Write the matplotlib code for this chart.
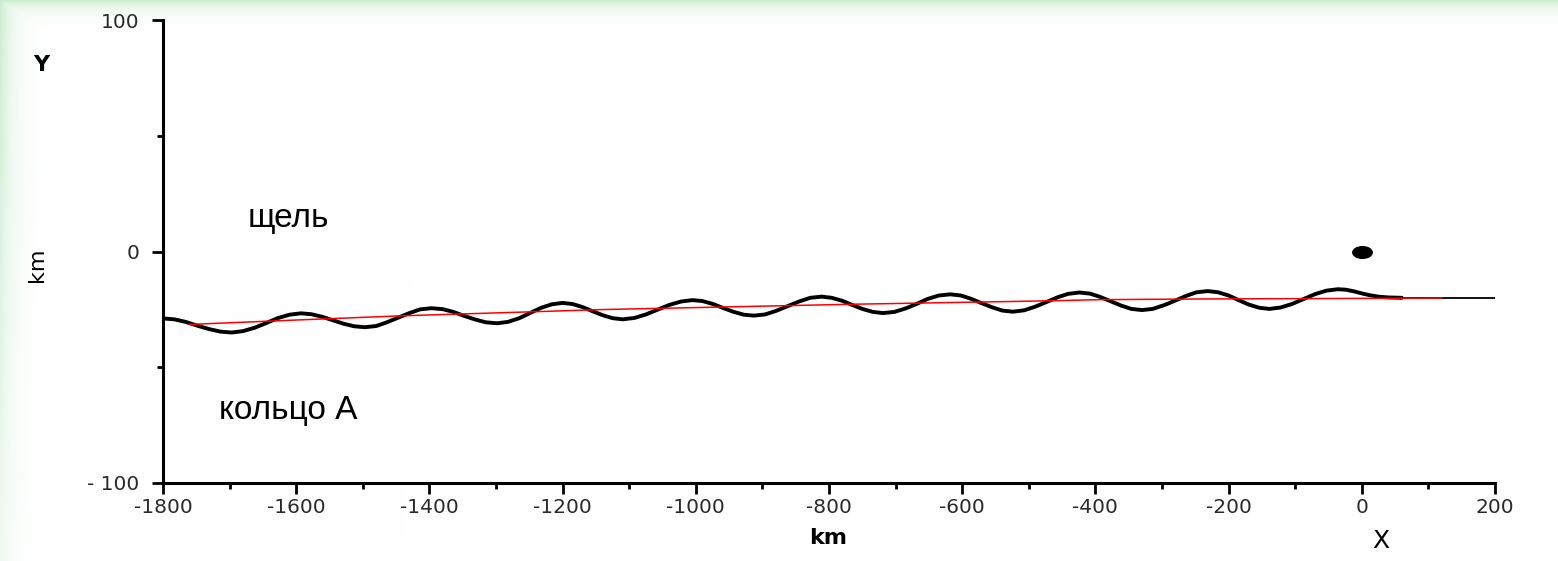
import numpy as np
import matplotlib
matplotlib.use('Agg')
import matplotlib.pyplot as plt
from matplotlib.path import Path
from matplotlib.ticker import MultipleLocator

# ---- data (km) ----
wave_x = [-1800, -1783, -1766, -1749, -1731, -1714,
          -1697, -1680, -1662, -1645, -1628, -1610,
          -1593, -1577, -1561, -1545, -1529, -1513,
          -1497, -1480, -1464, -1447, -1430, -1414,
          -1397, -1380, -1364, -1348, -1331, -1315,
          -1298, -1282, -1265, -1249, -1233, -1216,
          -1200, -1185, -1170, -1155, -1140, -1125,
          -1110, -1092, -1075, -1058, -1040, -1022,
          -1005, -990, -974, -959, -944, -928,
          -913, -896, -879, -862, -845, -828,
          -811, -796, -780, -765, -750, -734,
          -719, -702, -685, -668, -652, -635,
          -618, -602, -587, -571, -555, -540,
          -524, -507, -491, -474, -457, -441,
          -424, -408, -393, -377, -361, -346,
          -330, -314, -297, -280, -264, -248,
          -231, -216, -200, -185, -170, -154,
          -139, -122, -105, -88, -70, -53,
          -36, -24, -12, 0, 12, 25, 40, 60, 200]
wave_y = [-28.9, -29.3, -30.4, -32.0, -33.5, -34.6,
          -35.0, -34.4, -32.9, -30.9, -28.8, -27.3,
          -26.7, -27.1, -28.2, -29.7, -31.2, -32.3,
          -32.7, -32.2, -30.6, -28.6, -26.6, -25.0,
          -24.5, -24.9, -26.1, -27.8, -29.4, -30.6,
          -31.0, -30.4, -28.8, -26.6, -24.4, -22.8,
          -22.2, -22.7, -24.0, -25.8, -27.5, -28.8,
          -29.3, -28.7, -27.2, -25.2, -23.1, -21.6,
          -21.0, -21.4, -22.7, -24.4, -26.0, -27.3,
          -27.7, -27.2, -25.6, -23.6, -21.6, -20.0,
          -19.5, -20.0, -21.3, -23.1, -24.8, -26.1,
          -26.6, -26.1, -24.6, -22.6, -20.5, -19.0,
          -18.5, -19.0, -20.4, -22.3, -24.1, -25.5,
          -26.0, -25.4, -23.9, -21.9, -19.8, -18.3,
          -17.7, -18.2, -19.6, -21.5, -23.4, -24.8,
          -25.3, -24.8, -23.2, -21.2, -19.2, -17.6,
          -17.1, -17.6, -19.0, -21.0, -22.9, -24.3,
          -24.8, -24.2, -22.7, -20.6, -18.4, -16.9,
          -16.3, -16.5, -17.2, -18.1, -18.9, -19.5, -19.85, -20.0, -20.0]

mean_x = [-1760, -1600, -1444, -1219, -1144, -768, -468, -393, -238, 57, 120]
mean_y = [-31.5, -29.6, -27.8, -25.8, -25.1, -22.8, -21.3, -20.8, -20.5, -20.2, -20.1]

moon_x = [0]
moon_y = [0]

x_ticks = [-1800, -1600, -1400, -1200, -1000, -800, -600, -400, -200, 0, 200]
x_tick_labels = ['-1800', '-1600', '-1400', '-1200', '-1000', '-800', '-600',
                 '-400', '-200', '0', '200']
y_ticks = [-100, 0, 100]
y_tick_labels = ['- 100', '0', '100']

W, H = 1558, 561
fig = plt.figure(figsize=(W / 100, H / 100), dpi=100)

# ---- light green slide background (pixel image, no resampling) ----
yy, xx = np.mgrid[0:H, 0:W]
g_top = np.exp(-yy / 8.0)
g_left = np.exp(-xx / 12.0) * (1 - 0.7 * yy / H)
g = np.clip(np.maximum(g_top, g_left), 0, 1)
edge = np.array([0.80, 0.93, 0.82])
img = 1 - g[..., None] * (1 - edge)
fig.figimage(img, xo=0, yo=0, origin='upper', zorder=0)

# ---- main axes ----
ax = fig.add_axes([163 / W, 1 - 483 / H, (1495 - 163) / W, (483 - 20) / H], zorder=1)
ax.set_facecolor('none')
ax.set_xlim(-1800, 200)
ax.set_ylim(-100, 100)
for s in ['top', 'right']:
    ax.spines[s].set_visible(False)
for s in ['left', 'bottom']:
    ax.spines[s].set_linewidth(2.2)

ax.set_xticks(x_ticks)
ax.set_xticklabels(x_tick_labels, fontsize=14.5, color='#2a2a2a')
ax.set_yticks(y_ticks)
ax.set_yticklabels(y_tick_labels, fontsize=14.5, color='#2a2a2a')
ax.xaxis.set_minor_locator(MultipleLocator(100))
ax.yaxis.set_minor_locator(MultipleLocator(50))
ax.tick_params(which='major', length=8, width=2, direction='out')
ax.tick_params(which='minor', length=4, width=2, direction='out')
ax.tick_params(axis='x', pad=3)
ax.tick_params(axis='y', pad=9)

ax.plot(wave_x[:-1], wave_y[:-1], color='black', lw=2.8, zorder=3,
        solid_joinstyle='round', solid_capstyle='round')
ax.plot(wave_x[-2:], wave_y[-2:], color='black', lw=1.3, zorder=3)
ax.plot(mean_x, mean_y, color='#ff0000', lw=1.1, zorder=4)

circ = Path.unit_circle()
ell = Path(circ.vertices * np.array([1.0, 0.6]), circ.codes)
ax.plot(moon_x, moon_y, linestyle='none', marker=ell, markersize=14,
        color='black', zorder=5, clip_on=False)

# ---- texts ----
def ftext(px, py, s, **kw):
    fig.text(px / W, 1 - py / H, s, ha='center', va='center', zorder=6, **kw)

ftext(288, 218, 'щель', fontsize=24, family='Liberation Sans')
ftext(288, 411, 'кольцо А', fontsize=24, family='Liberation Sans')
ftext(41, 65, 'Y', fontsize=16, fontweight='bold')
ftext(37, 265, 'km', fontsize=16, rotation=90)
ftext(828, 538, 'km', fontsize=16, fontweight='bold')
ftext(1381, 541, 'X', fontsize=18)

fig.savefig('out.png', dpi=100)
